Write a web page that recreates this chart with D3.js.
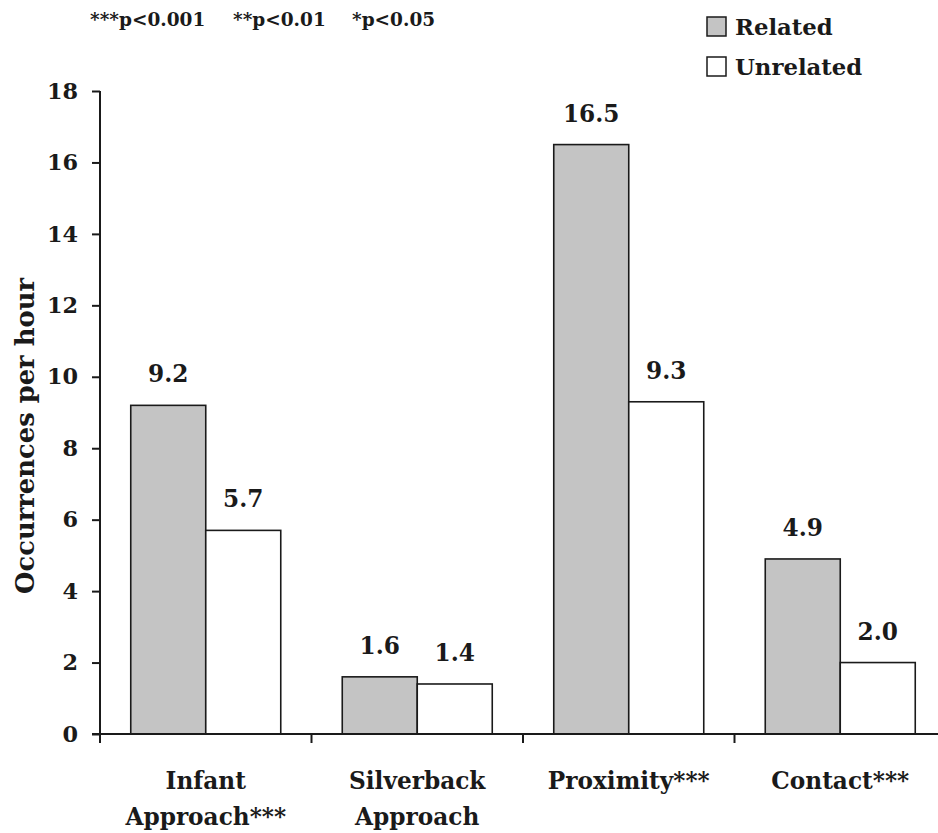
<!DOCTYPE html>
<html>
<head>
<meta charset="utf-8">
<script src="https://cdn.jsdelivr.net/npm/d3@7/dist/d3.min.js"></script>
<style>
  html, body { margin: 0; padding: 0; background: #fff; }
  svg { display: block; }
</style>
</head>
<body>
<svg id="chart" width="938" height="833"></svg>
<script>
// ---- data ----
const categories = ["Infant Approach***", "Silverback Approach", "Proximity***", "Contact***"];
const categoryLines = [["Infant", "Approach***"], ["Silverback", "Approach"], ["Proximity***"], ["Contact***"]];
const series = ["Related", "Unrelated"];
const related = [9.2, 1.6, 16.5, 4.9];
const unrelated = [5.7, 1.4, 9.3, 2.0];
const yTicks = [0, 2, 4, 6, 8, 10, 12, 14, 16, 18];
const yTitle = "Occurrences per hour";
const noteParts = ["***p<0.001", "**p<0.01", "*p<0.05"];

// ---- layout ----
const svg = d3.select("#chart");
const plotLeft = 100, plotBottom = 734, plotTop = 91;
const FONT = '"DejaVu Serif", "Liberation Serif", serif';
const FS = 0.86; // DejaVu Serif is wider than Times

const fills = { "Related": "#c4c4c4", "Unrelated": "#ffffff" };

const y = d3.scaleLinear().domain([0, 18]).range([plotBottom, plotTop]);
const x0 = d3.scaleBand().domain(categories).range([plotLeft, 946]).padding(0);
const x1 = d3.scaleBand().domain(series).range([0, x0.bandwidth()]).paddingInner(0).paddingOuter(0.41);

const rows = categories.map((c, i) => ({ cat: c, lines: categoryLines[i], vals: [
  { s: "Related", v: related[i] }, { s: "Unrelated", v: unrelated[i] }] }));

function styleText(sel, size) {
  return sel.attr("font-family", FONT).attr("font-weight", "bold").attr("fill", "#1a1a1a").attr("font-size", size * FS);
}

// bars
const g = svg.append("g");
const grp = g.selectAll("g.cat").data(rows).join("g")
  .attr("transform", d => `translate(${x0(d.cat)},0)`);
grp.selectAll("rect").data(d => d.vals).join("rect")
  .attr("x", d => x1(d.s))
  .attr("y", d => y(d.v))
  .attr("width", x1.bandwidth())
  .attr("height", d => y(0) - y(d.v))
  .attr("fill", d => fills[d.s])
  .attr("stroke", "#1a1a1a").attr("stroke-width", 1.6);
styleText(grp.selectAll("text.val").data(d => d.vals).join("text").attr("class", "val")
  .attr("x", d => x1(d.s) + x1.bandwidth() / 2)
  .attr("y", d => y(d.v) - 23)
  .attr("text-anchor", "middle"), 27)
  .text(d => d.v.toFixed(1));

// y axis
const yAxis = svg.append("g").attr("transform", `translate(${plotLeft},0)`)
  .call(d3.axisLeft(y).tickValues(yTicks).tickFormat(d3.format("d")).tickSize(8).tickPadding(14));
yAxis.select(".domain").remove();
yAxis.selectAll(".tick line").attr("stroke", "#1a1a1a").attr("stroke-width", 2);
styleText(yAxis.selectAll(".tick text"), 26);
svg.append("line").attr("x1", plotLeft).attr("x2", plotLeft).attr("y1", y(18)).attr("y2", plotBottom + 9)
  .attr("stroke", "#1a1a1a").attr("stroke-width", 2);

// x axis
svg.append("line").attr("x1", plotLeft - 8).attr("x2", 938).attr("y1", plotBottom).attr("y2", plotBottom)
  .attr("stroke", "#1a1a1a").attr("stroke-width", 2);
svg.selectAll("line.xt").data(categories.slice(1)).join("line").attr("class", "xt")
  .attr("x1", d => x0(d)).attr("x2", d => x0(d))
  .attr("y1", plotBottom).attr("y2", plotBottom + 9)
  .attr("stroke", "#1a1a1a").attr("stroke-width", 2);

// category labels
const cl = styleText(svg.selectAll("text.cat").data(rows).join("text").attr("class", "cat")
  .attr("text-anchor", "middle")
  .attr("x", d => x0(d.cat) + x0.bandwidth() / 2).attr("y", 789), 27);
cl.selectAll("tspan").data(d => d.lines.map(l => ({ l, x: x0(d.cat) + x0.bandwidth() / 2 }))).join("tspan")
  .attr("x", d => d.x).attr("dy", (d, i) => i === 0 ? 0 : 36).text(d => d.l);

// y title
styleText(svg.append("text").attr("transform", "translate(34,436) rotate(-90)")
  .attr("text-anchor", "middle"), 30).text(yTitle);

// note
const noteX = [90, 233, 352];
styleText(svg.selectAll("text.note").data(noteParts).join("text").attr("class", "note")
  .attr("x", (d, i) => noteX[i]).attr("y", 26), 21.5).text(d => d);

// legend
const lg = svg.selectAll("g.lg").data(series).join("g").attr("class", "lg")
  .attr("transform", (d, i) => `translate(707,${17 + i * 40})`);
lg.append("rect").attr("width", 19).attr("height", 19)
  .attr("fill", d => fills[d]).attr("stroke", "#1a1a1a").attr("stroke-width", 1.5);
styleText(lg.append("text").attr("x", 28).attr("y", 18), 26.5).text(d => d);
</script>
</body>
</html>
